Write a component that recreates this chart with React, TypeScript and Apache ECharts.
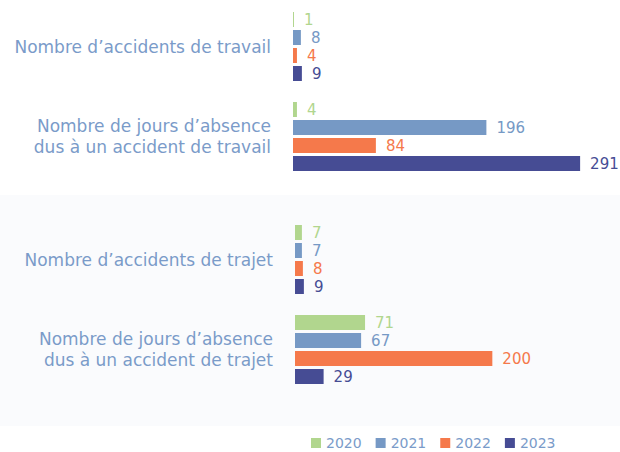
import React, { useEffect, useRef } from "react";
import * as echarts from "echarts";

const categoriesTop = [
  "Nombre d’accidents de travail",
  "Nombre de jours d’absence\ndus à un accident de travail",
];
const categoriesBottom = [
  "Nombre d’accidents de trajet",
  "Nombre de jours d’absence\ndus à un accident de trajet",
];
const years = ["2020", "2021", "2022", "2023"];
// order: [accidents travail, jours travail, accidents trajet, jours trajet]
const values2020 = [1, 4, 7, 71];
const values2021 = [8, 196, 7, 67];
const values2022 = [4, 84, 8, 200];
const values2023 = [9, 291, 9, 29];
const seriesValues = [values2020, values2021, values2022, values2023];
const colors = ["#B1D68E", "#7699C5", "#F5794B", "#464C94"];

const FONT = "DejaVu Sans";
const LABEL_COLOR = "#7A9BC9";

export default function App() {
  const ref = useRef<HTMLDivElement>(null);
  useEffect(() => {
    document.body.style.margin = "0";
    const chart = echarts.init(ref.current!, null, { renderer: "svg" });
    const series: any[] = [];
    [0, 1].forEach((g) => {
      years.forEach((y, i) => {
        series.push({
          type: "bar",
          name: y,
          xAxisIndex: g,
          yAxisIndex: g,
          barWidth: 15,
          barGap: "20%",
          data: seriesValues[i].slice(g * 2, g * 2 + 2),
          itemStyle: { color: colors[i] },
          label: {
            show: true,
            position: "right",
            distance: 10,
            color: colors[i],
            fontSize: 15,
            fontFamily: FONT,
          },
        });
      });
    });
    const yAxisBase = {
      type: "category",
      inverse: true,
      axisLine: { show: false },
      axisTick: { show: false },
      splitLine: { show: false },
      axisLabel: {
        color: LABEL_COLOR,
        fontSize: 17,
        fontFamily: FONT,
        margin: 22,
        lineHeight: 21,
        align: "right",
      },
    };
    const xAxisBase = {
      type: "value",
      min: 0,
      max: 300,
      show: false,
    };
    chart.setOption({
      animation: false,
      textStyle: { fontFamily: FONT },
      graphic: [
        {
          type: "rect",
          shape: { x: 0, y: 195, width: 620, height: 231 },
          style: { fill: "#FAFBFD" },
          z: -10,
        },
      ],
      legend: {
        data: years,
        left: 311,
        top: 436,
        padding: 0,
        icon: "rect",
        itemWidth: 10,
        itemHeight: 10,
        itemGap: 14,
        textStyle: { color: LABEL_COLOR, fontSize: 14, fontFamily: FONT },
      },
      grid: [
        { left: 293, top: 1.5, width: 296, height: 180 },
        { left: 295, top: 214.5, width: 296, height: 180 },
      ],
      xAxis: [
        { ...xAxisBase, gridIndex: 0 },
        { ...xAxisBase, gridIndex: 1 },
      ],
      yAxis: [
        { ...yAxisBase, gridIndex: 0, data: categoriesTop },
        { ...yAxisBase, gridIndex: 1, data: categoriesBottom },
      ],
      series,
    });
    return () => chart.dispose();
  }, []);
  return <div ref={ref} style={{ width: 620, height: 452 }} />;
}
